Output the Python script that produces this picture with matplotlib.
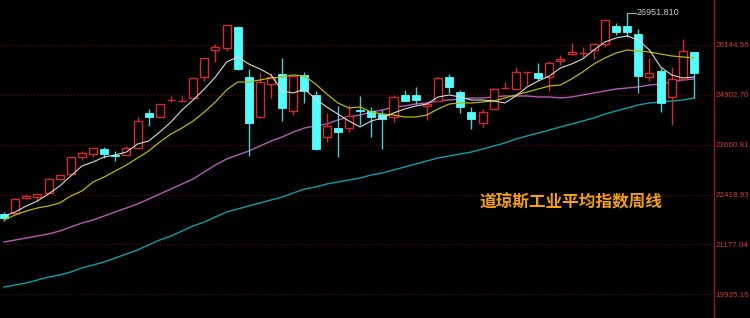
import matplotlib
matplotlib.use('Agg')
import matplotlib.pyplot as plt
import numpy as np

# weekly candles
opens = [21935, 21960, 22333, 22358, 22458, 22807, 22931, 23355, 23429, 23554,
         23404, 23404, 23579, 24451, 24351, 24762, 24737, 24824, 25347, 26020,
         26070, 26593, 25347, 24351, 25173, 25422, 24500, 25397, 24899, 23853,
         24077, 24077, 24513, 24500, 24426, 24351, 24899, 24899, 24625, 24750,
         25347, 24974, 24476, 24202, 24550, 25061, 25048, 25460, 25447, 25347,
         25746, 25920, 25933, 26020, 26169, 26618, 26618, 26419, 25347, 25497,
         24849, 25298, 25970]
highs = [21985, 22333, 22433, 22440, 22820, 22915, 23365, 23504, 23585, 23604,
         23504, 23629, 24351, 24550, 24685, 24874, 24874, 25330, 25830, 26169,
         26650, 26618, 25547, 25447, 25447, 25821, 25380, 25472, 24999, 24451,
         24625, 24650, 24874, 24600, 24525, 24899, 25024, 25098, 24700, 25347,
         25422, 25024, 24600, 24550, 25073, 25223, 25597, 25480, 25696, 25746,
         25895, 26194, 26095, 26194, 26775, 26693, 26951.81, 26543, 25821, 25572,
         25597, 26294, 25970]
lows = [21760, 21935, 22308, 22258, 22450, 22782, 22925, 23280, 23355, 23330,
        23255, 23400, 23575, 24127, 24340, 24725, 24737, 24815, 25248, 25721,
        25995, 25522, 23380, 24326, 24824, 24251, 24401, 24700, 23529, 23728,
        23355, 23977, 24152, 23853, 23554, 24226, 24745, 24675, 24276, 24745,
        24949, 24451, 24052, 24102, 24545, 25055, 25045, 25148, 25273, 24999,
        25646, 25895, 25846, 25796, 26095, 26394, 26344, 24949, 25248, 24476,
        24152, 25290, 24824]
closes = [21835, 22308, 22383, 22433, 22807, 22906, 23355, 23454, 23579, 23429,
          23380, 23579, 24251, 24351, 24675, 24774, 24750, 25323, 25821, 26095,
          26643, 25547, 24202, 25223, 25347, 24575, 25372, 24999, 23554, 24127,
          23977, 24376, 24500, 24351, 24301, 24849, 24750, 24774, 24675, 25323,
          25098, 24600, 24301, 24476, 25048, 25073, 25472, 25472, 25323, 25696,
          25796, 25970, 25945, 26169, 26767, 26468, 26468, 25372, 25447, 24700,
          25298, 25995, 25447]

# moving averages
ma_white = [21885, 21985, 22134, 22258, 22433, 22632, 22881, 23130, 23230, 23355,
            23404, 23479, 23678, 23753, 23977, 24226, 24525, 24774, 25048, 25347,
            25721, 25846, 25671, 25547, 25397, 24999, 24949, 25048, 24799, 24600,
            24426, 24251, 24102, 24251, 24326, 24451, 24550, 24625, 24675, 24849,
            24899, 24849, 24774, 24774, 24750, 24700, 24874, 25098, 25248, 25372,
            25572, 25671, 25796, 26020, 26219, 26319, 26369, 26269, 26020, 25597,
            25397, 25323, 25347]
ma_yellow = [21785, 21910, 22009, 22084, 22134, 22209, 22383, 22508, 22732, 22856,
             23006, 23155, 23330, 23504, 23728, 23927, 24077, 24251, 24476, 24725,
             25024, 25223, 25223, 25273, 25323, 25347, 25397, 25372, 25173, 24924,
             24700, 24575, 24600, 24476, 24426, 24401, 24351, 24351, 24401, 24550,
             24675, 24700, 24700, 24725, 24750, 24824, 24899, 24974, 25048, 25123,
             25148, 25298, 25472, 25671, 25821, 25945, 26020, 25995, 25970, 25920,
             25871, 25846, 25821]
ma_magenta = [21237, 21287, 21337, 21387, 21437, 21511, 21611, 21710, 21785, 21885,
              21985, 22084, 22184, 22308, 22433, 22557, 22682, 22807, 22981, 23155,
              23305, 23404, 23504, 23629, 23753, 23853, 23977, 24077, 24127, 24177,
              24276, 24351, 24401, 24476, 24525, 24600, 24625, 24675, 24700, 24750,
              24774, 24799, 24824, 24824, 24849, 24874, 24874, 24874, 24849, 24849,
              24824, 24849, 24899, 24949, 24999, 25048, 25073, 25098, 25148, 25173,
              25223, 25273, 25298]
ma_cyan = [20116, 20166, 20216, 20290, 20365, 20415, 20490, 20590, 20664, 20739,
           20839, 20938, 21038, 21163, 21287, 21387, 21511, 21636, 21735, 21860,
           21985, 22059, 22134, 22209, 22283, 22358, 22458, 22557, 22607, 22682,
           22732, 22782, 22831, 22906, 22956, 23031, 23106, 23180, 23255, 23330,
           23380, 23429, 23479, 23554, 23629, 23703, 23803, 23878, 23952, 24027,
           24102, 24177, 24251, 24326, 24426, 24500, 24575, 24650, 24700, 24725,
           24750, 24774, 24824]

grid_levels = [26144.56, 24902.70, 23660.81, 22418.93, 21177.04, 19935.16]
grid_labels = ['26144.56', '24902.70', '23660.81', '22418.93', '21177.04', '19935.16']
peak_label = '26951.810'
title = '道琼斯工业平均指数周线'

RED = '#d42a2a'
CYAN = '#54fcfc'
NUMFONT = ['Liberation Sans', 'DejaVu Sans']

fig = plt.figure(figsize=(7.5, 3.18), dpi=100, facecolor='black')
ax = fig.add_axes([0, 0, 714 / 750, 1])
ax.set_facecolor('black')

o = np.array(opens, float)
h = np.array(highs, float)
l = np.array(lows, float)
c = np.array(closes, float)
x = np.arange(len(o))
up = c > o
top = np.maximum(o, c)
bot = np.minimum(o, c)
w = 0.72

# wicks
ax.vlines(x[up], top[up], h[up], color=RED, lw=1, zorder=3)
ax.vlines(x[up], l[up], bot[up], color=RED, lw=1, zorder=3)
ax.vlines(x[~up], l[~up], h[~up], color='#3fd0d0', lw=1, zorder=3)
# bodies
ax.bar(x[up], top[up] - bot[up], w, bottom=bot[up], facecolor='black',
       edgecolor=RED, lw=1, zorder=4)
ax.bar(x[~up], np.maximum(top[~up] - bot[~up], 8), w, bottom=bot[~up],
       facecolor=CYAN, edgecolor=CYAN, lw=0.6, zorder=4)

ax.plot(x, ma_cyan, color='#0aa0ac', lw=1, zorder=2)
ax.plot(x, ma_magenta, color='#b858b8', lw=1, zorder=2)
ax.plot(x, ma_yellow, color='#b8b800', lw=0.9, zorder=5)
ax.plot(x, ma_white, color='#d8d8d8', lw=0.8, zorder=5)

# peak marker
ip = int(np.argmax(h))
ax.plot([ip, ip + 0.75], [h[ip], h[ip]], color='#b0b0b0', lw=0.8, zorder=5)
ax.text(ip + 0.85, h[ip], peak_label, color='#c8c8c8', fontsize=6.5,
        family=NUMFONT, va='center', ha='left', zorder=6)

ax.text(0.672, 0.365, title, transform=ax.transAxes, color='#f2a010',
        fontsize=12, fontweight='bold', family=['Noto Sans CJK SC', 'DejaVu Sans'],
        ha='left', va='center')

ax.set_xlim(-0.36, 63.8)
ax.set_ylim(19344, 27265)

ax.set_yticks(grid_levels)
ax.set_yticklabels(grid_labels, family=NUMFONT)
ax.yaxis.tick_right()
ax.tick_params(axis='y', length=0, pad=1.0, labelsize=5.8, labelcolor='#d03a3a')
ax.set_xticks([])
ax.grid(axis='y', color='#6a0a0a', lw=0.8, linestyle=(0, (1, 2)))
for s in ['top', 'left', 'bottom']:
    ax.spines[s].set_visible(False)
ax.spines['right'].set_color('#9a1a1a')
ax.spines['right'].set_linewidth(1)

fig.savefig('out.png', dpi=100, facecolor='black')
